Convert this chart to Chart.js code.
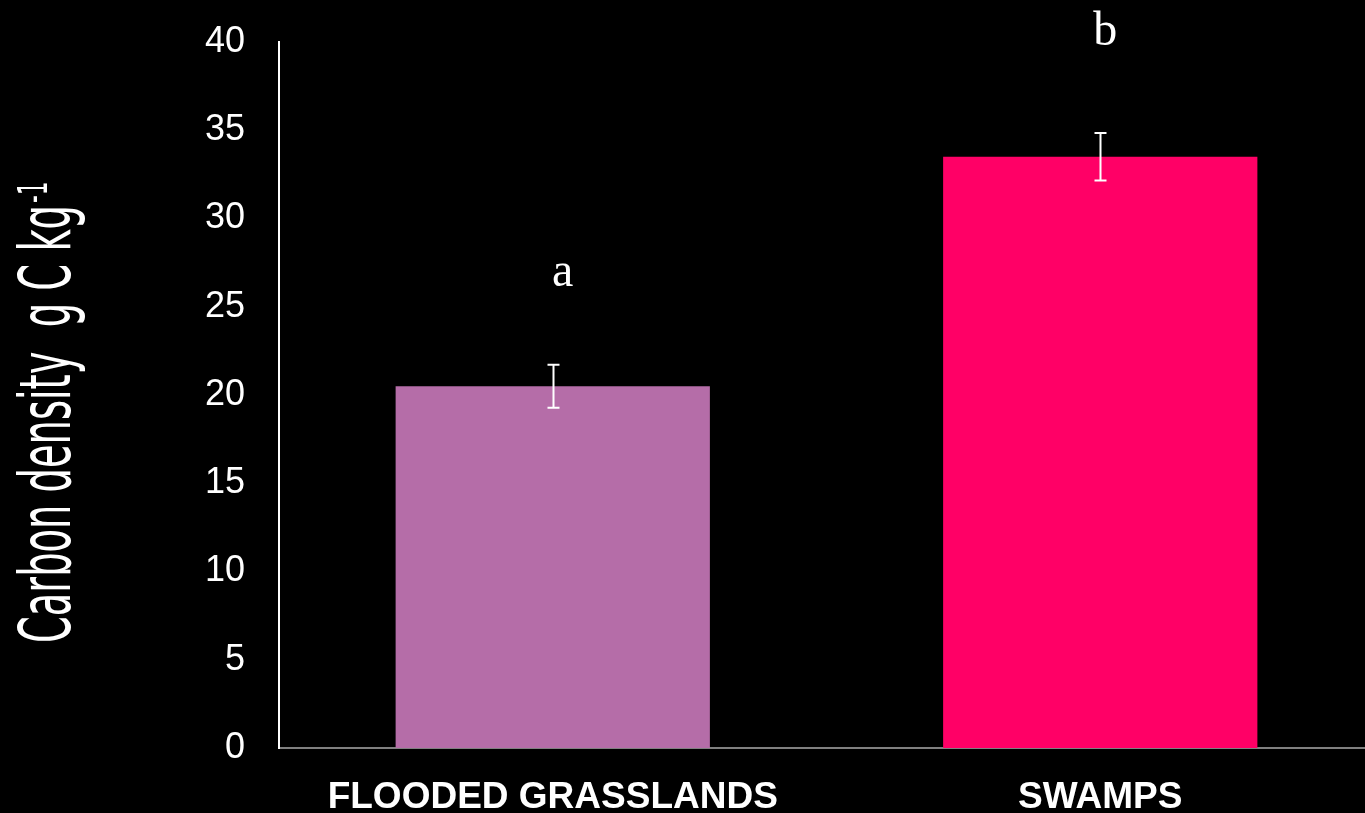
<!DOCTYPE html>
<html>
<head>
<meta charset="utf-8">
<title>Carbon density by wetland type</title>
<script src="https://cdn.jsdelivr.net/npm/chart.js@4/dist/chart.umd.min.js"></script>
<style>
  html, body { margin: 0; padding: 0; background: #000; overflow: hidden; }
  #wrap { position: relative; width: 1374px; height: 813px; }
</style>
</head>
<body>
<div id="wrap"><canvas id="chart"></canvas></div>
<script>
// Wetland categories and their mean soil carbon density
const categories = ['FLOODED GRASSLANDS', 'SWAMPS'];
const carbonMeans = [20.5, 33.5];
// Standard error of each mean
const carbonErrors = [1.22, 1.35];
// Significance group letters drawn above each bar
const groupLetters = ['a', 'b'];
// Y tick range
const yTicks = { min: 0, max: 40, step: 5 };

const barColors = ['#B56DA8', '#FF0066'];

// Whiskers with caps for the standard errors
const errorBars = {
  id: 'errorBars',
  afterDatasetsDraw(chart) {
    const { ctx } = chart;
    const y = chart.scales.y;
    const meta = chart.getDatasetMeta(0);
    ctx.save();
    ctx.strokeStyle = '#ffffff';
    ctx.lineWidth = 2;
    meta.data.forEach((bar, i) => {
      const top = y.getPixelForValue(carbonMeans[i] + carbonErrors[i]);
      const bot = y.getPixelForValue(carbonMeans[i] - carbonErrors[i]);
      const x = Math.round(bar.x) + 0.5;
      const cap = 6;
      ctx.beginPath();
      ctx.moveTo(x, top); ctx.lineTo(x, bot);
      ctx.moveTo(x - cap, top); ctx.lineTo(x + cap, top);
      ctx.moveTo(x - cap, bot); ctx.lineTo(x + cap, bot);
      ctx.stroke();
    });
    ctx.restore();
  }
};

// Group letters placed a fixed distance above the error whiskers
const letterMarks = {
  id: 'letterMarks',
  afterDatasetsDraw(chart, args, opts) {
    const { ctx } = chart;
    const y = chart.scales.y;
    const meta = chart.getDatasetMeta(0);
    ctx.save();
    ctx.fillStyle = '#ffffff';
    ctx.font = '48px "Liberation Serif", "DejaVu Serif", serif';
    ctx.textAlign = 'center';
    ctx.textBaseline = 'alphabetic';
    meta.data.forEach((bar, i) => {
      const top = y.getPixelForValue(carbonMeans[i] + carbonErrors[i]);
      ctx.fillText(groupLetters[i], bar.x + opts.dx[i], top - opts.gap[i]);
    });
    ctx.restore();
  }
};

// Narrow, tall rotated axis title with a superscript unit exponent
const yTitle = {
  id: 'yTitle',
  afterDraw(chart, args, opts) {
    const { ctx } = chart;
    ctx.save();
    ctx.fillStyle = '#ffffff';
    ctx.translate(opts.x, opts.y);
    ctx.rotate(-Math.PI / 2);
    ctx.font = '71px "DejaVu Sans", sans-serif';
    ctx.textAlign = 'left';
    ctx.textBaseline = 'alphabetic';
    const main = 'Carbon density  g C kg';
    const sx = opts.length / ctx.measureText(main).width;
    ctx.save();
    ctx.scale(sx, 1);
    ctx.fillText(main, 0, 0);
    ctx.restore();
    ctx.font = '40px "DejaVu Sans", sans-serif';
    ctx.save();
    ctx.translate(opts.length + 2, -23);
    ctx.scale(sx, 1);
    ctx.fillText('-1', 0, 0);
    ctx.restore();
    ctx.restore();
  }
};

new Chart(document.getElementById('chart'), {
  type: 'bar',
  data: {
    labels: categories,
    datasets: [{
      data: carbonMeans,
      backgroundColor: barColors,
      borderWidth: 0,
      categoryPercentage: 1,
      barPercentage: 0.574
    }]
  },
  options: {
    responsive: true,
    maintainAspectRatio: false,
    animation: false,
    layout: { padding: { top: 42, left: 0, right: 0, bottom: 0 } },
    plugins: {
      legend: { display: false },
      tooltip: { enabled: false },
      letterMarks: { dx: [10, 5], gap: [79, 88] },
      yTitle: { x: 70, y: 643, length: 438 }
    },
    scales: {
      x: {
        grid: { display: false, drawTicks: false },
        border: { display: true, color: '#808080', width: 2 },
        ticks: {
          color: '#ffffff',
          padding: 28,
          maxRotation: 0,
          font: { family: '"Liberation Sans", Arial, sans-serif', size: 37, weight: 'bold' }
        },
        afterFit(scale) { scale.height = 65; }
      },
      y: {
        min: yTicks.min,
        max: yTicks.max,
        grid: { display: false, drawTicks: false },
        border: { display: true, color: '#ffffff', width: 2 },
        ticks: {
          stepSize: yTicks.step,
          color: '#ffffff',
          padding: 34,
          font: { family: '"Liberation Sans", Arial, sans-serif', size: 36 }
        },
        afterFit(scale) {
          scale.width = 279;
          scale.paddingTop = 0;
          scale.paddingBottom = 0;
        }
      }
    }
  },
  plugins: [errorBars, letterMarks, yTitle]
});
</script>
</body>
</html>
